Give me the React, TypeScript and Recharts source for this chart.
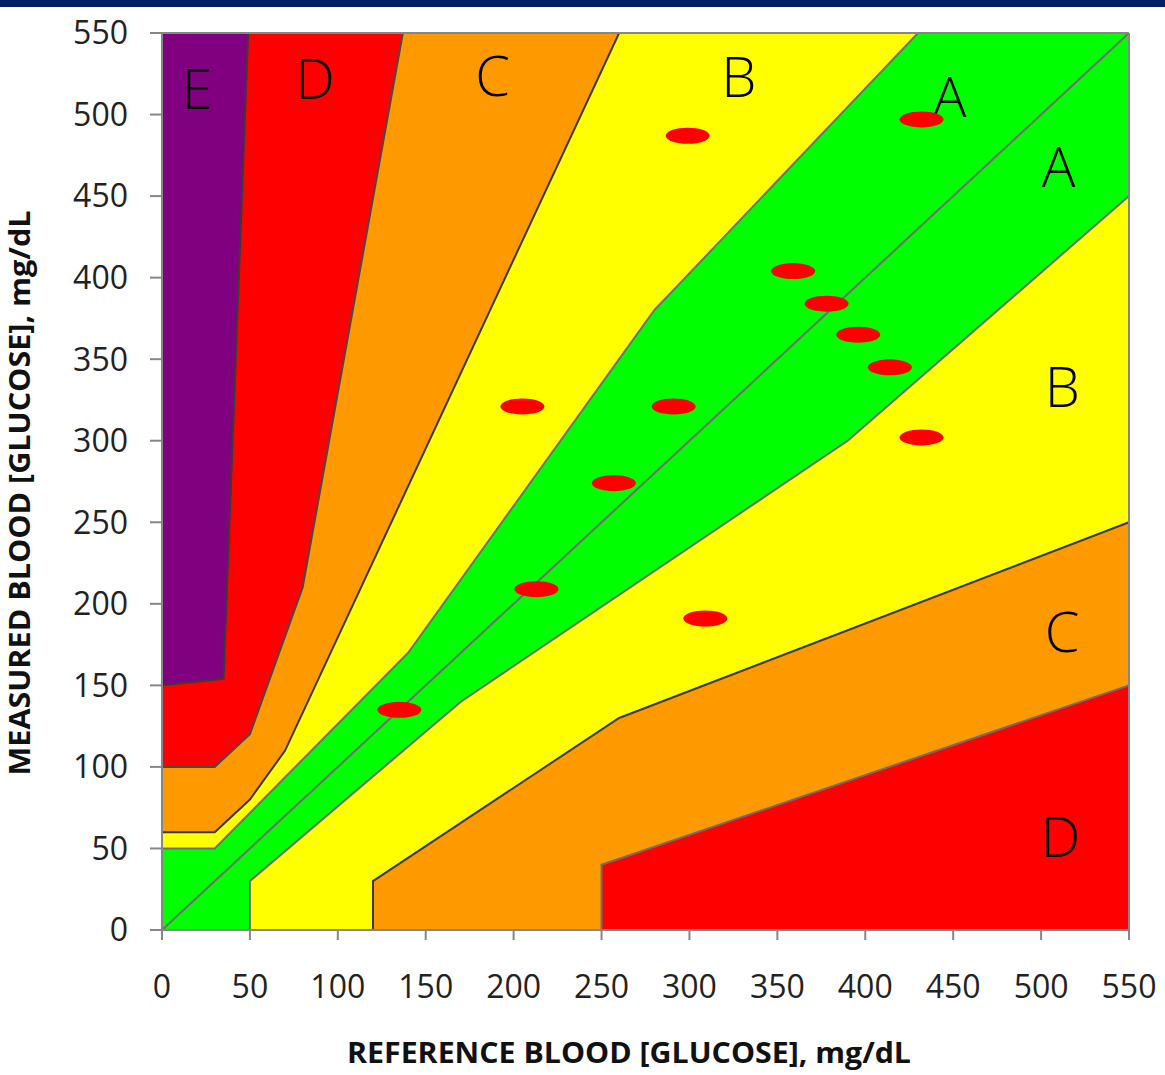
import React from 'react';
import { ComposedChart, Area, Line, Scatter, XAxis, YAxis, ReferenceLine, Label } from 'recharts';

const xTicks = [0, 50, 100, 150, 200, 250, 300, 350, 400, 450, 500, 550];
const yTicks = [0, 50, 100, 150, 200, 250, 300, 350, 400, 450, 500, 550];

// Zone boundaries (reference x, measured y)
const zoneE = [{ x: 0, y: 550 }, { x: 550, y: 550 }];
const upperD = [{ x: 0, y: 150 }, { x: 35, y: 154 }, { x: 49, y: 550 }, { x: 550, y: 550 }];
const upperC = [{ x: 0, y: 100 }, { x: 30, y: 100 }, { x: 50, y: 120 }, { x: 80, y: 210 }, { x: 137, y: 550 }, { x: 550, y: 550 }];
const upperB = [{ x: 0, y: 60 }, { x: 30, y: 60 }, { x: 50, y: 80 }, { x: 70, y: 110 }, { x: 260, y: 550 }, { x: 550, y: 550 }];
const upperA = [{ x: 0, y: 50 }, { x: 30, y: 50 }, { x: 140, y: 170 }, { x: 280, y: 380 }, { x: 430, y: 550 }, { x: 550, y: 550 }];
const lowerA = [{ x: 50, y: 0 }, { x: 50, y: 30 }, { x: 170, y: 140 }, { x: 390, y: 300 }, { x: 550, y: 450 }];
const lowerB = [{ x: 120, y: 0 }, { x: 120, y: 30 }, { x: 260, y: 130 }, { x: 550, y: 250 }];
const lowerC = [{ x: 250, y: 0 }, { x: 250, y: 40 }, { x: 550, y: 150 }];
const identity = [{ x: 0, y: 0 }, { x: 550, y: 550 }];

// Measurements
const refValues = [299, 432, 359, 378, 396, 414, 432, 205, 291, 257, 213, 309, 135];
const measValues = [487, 497, 404, 384, 365, 345, 302, 321, 321, 274, 209, 191, 135];
const points = refValues.map((x, i) => ({ x, y: measValues[i] }));

// Zone letters
const zoneLetters = ['E', 'D', 'C', 'B', 'A', 'A', 'B', 'C', 'D'];
const zoneLetterX = [20, 87, 188, 328, 448, 510, 512, 512, 511];
const zoneLetterY = [516, 522, 524, 523, 511, 468, 333, 183, 57];
const zoneLabels = zoneLetters.map((label, i) => ({ x: zoneLetterX[i], y: zoneLetterY[i], label }));

const axisColor = '#868686';
const lineColor = '#6e6e6e';
const tickStyle = { fontSize: 32, fill: '#222', fontFamily: 'Open Sans' };

const Ellipse = (props: any) => {
  const { cx, cy } = props;
  return <ellipse cx={cx} cy={cy} rx={22} ry={8} fill="#ff0000" />;
};

const Letter = (props: any) => {
  const { cx, cy, payload } = props;
  return (
    <text x={cx} y={cy} dy="0.36em" textAnchor="middle" fontSize={56} fontWeight={300} fontFamily="Open Sans" fill="#000">
      {payload.label}
    </text>
  );
};

const XTitle = () => (
  <text x={629} y={1053} dy="0.36em" textAnchor="middle" fontSize={28} fontWeight="bold" fontFamily="Open Sans" fill="#111" textLength={564} lengthAdjust="spacingAndGlyphs">
    REFERENCE BLOOD [GLUCOSE], mg/dL
  </text>
);

const YTitle = () => (
  <text x={0} y={0} dy="0.36em" textAnchor="middle" fontSize={28} fontWeight="bold" fontFamily="Open Sans" fill="#111" transform="translate(20,493) rotate(-90)" textLength={565} lengthAdjust="spacingAndGlyphs">
    MEASURED BLOOD [GLUCOSE], mg/dL
  </text>
);

export default function App() {
  return (
    <div style={{ position: 'absolute', left: 0, top: 0, width: 1165, height: 1075, background: '#fff' }}>
      <ComposedChart width={1165} height={1075} margin={{ top: 33, right: 36, bottom: 65, left: 12 }}>
        <XAxis
          type="number"
          dataKey="x"
          domain={[0, 550]}
          ticks={xTicks}
          interval={0}
          height={80}
          tickSize={10}
          tickMargin={35}
          tick={tickStyle}
          axisLine={{ stroke: axisColor, strokeWidth: 2 }}
          tickLine={{ stroke: axisColor, strokeWidth: 2 }}
        >
          <Label content={<XTitle />} />
        </XAxis>
        <YAxis
          type="number"
          dataKey="y"
          domain={[0, 550]}
          ticks={yTicks}
          interval={0}
          width={150}
          tickSize={12}
          tickMargin={22}
          tick={tickStyle}
          axisLine={{ stroke: axisColor, strokeWidth: 2 }}
          tickLine={{ stroke: axisColor, strokeWidth: 2 }}
        >
          <Label content={<YTitle />} />
        </YAxis>
        <Area data={zoneE} dataKey="y" type="linear" baseValue={0} fill="#800080" fillOpacity={1} stroke="none" isAnimationActive={false} />
        <Area data={upperD} dataKey="y" type="linear" baseValue={0} fill="#ff0000" fillOpacity={1} stroke="#3a3a3a" strokeWidth={2} isAnimationActive={false} />
        <Area data={upperC} dataKey="y" type="linear" baseValue={0} fill="#ff9900" fillOpacity={1} stroke="#4a4a4a" strokeWidth={2} isAnimationActive={false} />
        <Area data={upperB} dataKey="y" type="linear" baseValue={0} fill="#ffff00" fillOpacity={1} stroke="#3a3a3a" strokeWidth={2} isAnimationActive={false} />
        <Area data={upperA} dataKey="y" type="linear" baseValue={0} fill="#00ff00" fillOpacity={1} stroke={lineColor} strokeWidth={2} isAnimationActive={false} />
        <Area data={lowerA} dataKey="y" type="linear" baseValue={0} fill="#ffff00" fillOpacity={1} stroke={lineColor} strokeWidth={2} isAnimationActive={false} />
        <Area data={lowerB} dataKey="y" type="linear" baseValue={0} fill="#ff9900" fillOpacity={1} stroke="#3a3a3a" strokeWidth={2} isAnimationActive={false} />
        <Area data={lowerC} dataKey="y" type="linear" baseValue={0} fill="#ff0000" fillOpacity={1} stroke={lineColor} strokeWidth={2} isAnimationActive={false} />
        <Line data={identity} dataKey="y" type="linear" stroke={lineColor} strokeWidth={2} dot={false} isAnimationActive={false} />
        <ReferenceLine y={550} stroke={axisColor} strokeWidth={2} />
        <ReferenceLine x={550} stroke={axisColor} strokeWidth={2} />
        <Scatter data={zoneLabels} dataKey="y" shape={<Letter />} isAnimationActive={false} />
        <Scatter data={points} dataKey="y" shape={<Ellipse />} isAnimationActive={false} />
      </ComposedChart>
      <div style={{ position: 'absolute', left: 0, top: 0, width: 1165, height: 7, background: '#00205f' }} />
    </div>
  );
}
